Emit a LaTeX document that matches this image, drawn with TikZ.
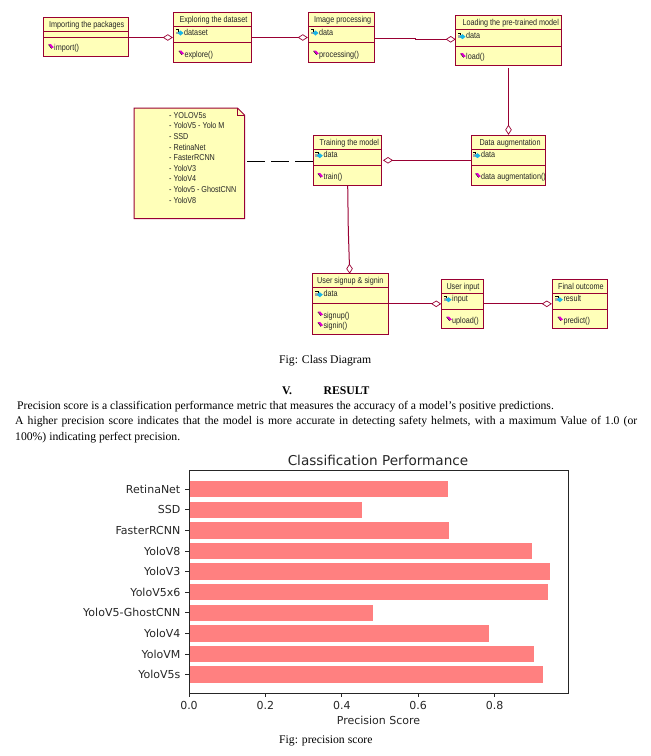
\documentclass[tikz,border=0pt]{standalone}
\usepackage{fontspec}
\setmainfont{Liberation Serif}
\newfontfamily\umlfont[FakeStretch=0.84]{Liberation Sans}
\newfontfamily\plotfont{DejaVu Sans}
\usetikzlibrary{arrows.meta,fit,calc}
\definecolor{UmlRed}{HTML}{990033}
\definecolor{UmlFill}{HTML}{FFFFB9}
\definecolor{UmlCyan}{HTML}{19B5E6}
\definecolor{UmlPink}{HTML}{E000D0}
\definecolor{BarRed}{HTML}{FF8080}
\definecolor{PlotInk}{HTML}{262626}
\tikzset{
  classbox/.style={draw=UmlRed, line width=1pt, fill=UmlFill, inner sep=0pt},
  classline/.style={draw=UmlRed, line width=1pt},
  classtitle/.style={anchor=west, inner sep=0pt, text=black!85, text height=6pt, text depth=1.7pt,
    font=\umlfont\fontsize{8.6}{10}\selectfont},
  member/.style={classtitle},
  wire/.style={{Diamond[open, length=10pt, width=6.5pt, line width=0.7pt]}-, draw=UmlRed, line width=1pt},
  dependency/.style={draw=black, line width=1pt, dash pattern=on 18pt off 6pt},
  notebox/.style={inner sep=0pt},
  notetext/.style={anchor=north west, inner sep=0pt, align=left, text=black!85,
    font=\umlfont\fontsize{8.6}{10.6}\selectfont},
  bodytext/.style={anchor=west, inner sep=0pt, font=\fontsize{11.7}{13}\selectfont},
  caption/.style={bodytext},
  headtext/.style={bodytext, font=\bfseries\fontsize{11.7}{13}\selectfont},
  bar/.style={fill=BarRed},
  axisline/.style={draw=PlotInk, line width=0.9pt},
  plotlabel/.style={inner sep=0pt, text=PlotInk, font=\plotfont\fontsize{11}{13}\selectfont}
}
\newcommand{\umlclass}[7]{%
  \node[classbox, fit={(#2,#3) (#4,#5)}] (#1) {};
  \draw[classline] (#2,#6) -- (#4,#6);
  \draw[classline] (#2,#7) -- (#4,#7);
}
\newcommand{\attribute}[4]{%
  \node[member] (#1) at (#3,#4) {#2};
  \fill[gray!70] (#3-8,#4-1.5) rectangle (#3-4,#4+0.8);
  \draw[black, thin] (#3-8,#4-4) -- (#3-5.5,#4-4) -- (#3-5.5,#4-1.5);
  \fill[UmlCyan] (#3-3.5,#4-2.5) -- (#3-0.5,#4) -- (#3-3.5,#4+2.5) -- (#3-6.5,#4) -- cycle;
}
\newcommand{\operation}[4]{%
  \node[member] (#1) at (#3,#4) {#2};
  \fill[UmlPink] (#3-5.5,#4-4.5) -- (#3-3,#4-4.5) -- (#3-0.2,#4-1.5) -- (#3-2.5,#4-0.2) -- cycle;
  \draw[black, thin] (#3-5.5,#4-4) -- (#3-2.5,#4-0.2);
}
\begin{document}
\begin{tikzpicture}[x=1pt, y=-1pt]
  \useasboundingbox (0,0) rectangle (651,756);
  % classes
  \umlclass{imports}{43.5}{17.7}{128.6}{56.3}{31.7}{37.3}
  \node[classtitle] (importstitle) at (49,25.7) {Importing the packages};
  \operation{importop}{import()}{54}{48.7}
  \umlclass{explore}{173.3}{12.7}{251.7}{62.3}{26.7}{42.3}
  \node[classtitle] (exploretitle) at (179.3,20.7) {Exploring the dataset};
  \attribute{exploreattr}{dataset}{184}{33}
  \operation{exploreop}{explore()}{184.3}{55}
  \umlclass{image}{308.3}{12.7}{374.3}{62.3}{26.7}{42.3}
  \node[classtitle] (imagetitle) at (314,20.7) {Image processing};
  \attribute{imageattr}{data}{319}{33}
  \operation{imageop}{processing()}{319}{55}
  \umlclass{loading}{455.7}{15.7}{561.3}{65.3}{29.3}{46.3}
  \node[classtitle] (loadingtitle) at (462.3,23.7) {Loading the pre-trained model};
  \attribute{loadingattr}{data}{466}{36.7}
  \operation{loadingop}{load()}{466}{57.7}
  \umlclass{training}{313.3}{135.3}{381.3}{185.3}{149.3}{165}
  \node[classtitle] (trainingtitle) at (319.3,143.7) {Training the model};
  \attribute{trainingattr}{data}{323.3}{155.7}
  \operation{trainingop}{train()}{323.3}{177.7}
  \umlclass{augment}{471.7}{135.3}{545.3}{185.3}{149.3}{165}
  \node[classtitle] (augmenttitle) at (479.3,143.7) {Data augmentation};
  \attribute{augmentattr}{data}{481}{155.7}
  \operation{augmentop}{data augmentation()}{481}{177.7}
  \umlclass{signup}{312.3}{273.7}{388.3}{334.3}{287.7}{303.3}
  \node[classtitle] (signuptitle) at (317,281.7) {User signup \& signin};
  \attribute{signupattr}{data}{323.3}{294.7}
  \operation{signupop}{signup()}{323.3}{316}
  \operation{signinop}{signin()}{323.3}{326.7}
  \umlclass{input}{441.7}{279.3}{483.3}{328.3}{293.3}{309.3}
  \node[classtitle] (inputtitle) at (446.3,287) {User input};
  \attribute{inputattr}{input}{452}{299.7}
  \operation{inputop}{upload()}{452}{321}
  \umlclass{outcome}{552.3}{279.3}{607.3}{328.3}{293.3}{309.3}
  \node[classtitle] (outcometitle) at (558,287) {Final outcome};
  \attribute{outcomeattr}{result}{563.3}{299.7}
  \operation{outcomeop}{predict()}{563.3}{321}
  % note
  \node[notebox, fit={(134.3,108.3) (244.3,218.3)}] (note) {};
  \draw[classbox] (note.north west) -- ++(103.5,0) -- (note.north east |- 0,115) -- (note.south east) -- (note.south west) -- cycle;
  \draw[classline, line width=0.7pt] (237.8,108.3) -- (237.8,115) -- (244.3,115);
  \node[notetext] (notelist) at (169,112) {- YOLOV5s\\- YoloV5 - Yolo M\\- SSD\\- RetinaNet\\- FasterRCNN\\- YoloV3\\- YoloV4\\- Yolov5 - GhostCNN\\- YoloV8};
  % connectors
  \coordinate (notelink) at (247,161);
  \coordinate (imagelink) at (374.3,38.3);
  \coordinate (imagebend) at (415,38.3);
  \coordinate (loadinglink) at (455.7,39.3);
  \coordinate (trainfoot) at (347.7,185.3);
  \coordinate (signupbend) at (348.3,230);
  \coordinate (signuplink) at (349.7,273.7);
  \draw[wire] (explore.west) -- (imports.east |- explore.west);
  \draw[wire] (image.west) -- (explore.east |- image.west);
  \draw[wire] (loadinglink) -- (imagebend |- loadinglink) -- (imagebend) -- (imagelink);
  \draw[wire] (augment.north) -- ([yshift=-1.7pt]loading.south);
  \draw[wire] ([xshift=1.2pt]training.east) -- (augment.west |- training.east);
  \draw[wire] (signuplink) -- (signupbend) -- (trainfoot);
  \draw[wire] (input.west) -- (signup.east |- input.west);
  \draw[wire] (outcome.west) -- (input.east |- outcome.west);
  \draw[dependency] (notelink) -- (training.west |- notelink);
  % text
  \node[caption] (classcaption) at (279,361) {Fig: Class Diagram};
  \node[headtext] (secnum) at (282,391) {V.};
  \node[headtext] (sectitle) at (323.5,391) {RESULT};
  \node[bodytext] (lineone) at (17,407) {Precision score is a classification performance metric that measures the accuracy of a model's positive predictions.};
  \node[bodytext] (linetwo) at (15,422) {\makebox[622pt][s]{A higher precision score indicates that the model is more accurate in detecting safety helmets, with a maximum Value of 1.0 (or}};
  \node[bodytext] (linethree) at (15,438) {100\%) indicating perfect precision.};
  % chart
  \node[plotlabel, font=\plotfont\fontsize{13.6}{15}\selectfont] (charttitle) at (378,460) {Classification Performance};
  \foreach \barname/\barlabel/\barend/\barmid in {
    retina/RetinaNet/448/489.2, ssd/SSD/361.7/509.8, faster/FasterRCNN\ /449/530.4,
    veight/YoloV8/531.7/551, vthree/YoloV3/550/571.6, vsix/YoloV5x6/547.7/592.2,
    ghost/YoloV5-GhostCNN/373.3/612.8, vfour/YoloV4/488.7/633.4,
    vm/YoloVM/534/654, vfives/YoloV5s/543/674.6} {
    \fill[bar] (189,\barmid-8.2) rectangle (\barend,\barmid+8.2);
    \draw[axisline] (185,\barmid) -- (189,\barmid);
    \node[plotlabel, anchor=east] (\barname) at (180.5,\barmid) {\barlabel};
  }
  \node[notebox, fit={(189,470) (568.7,693.3)}, axisline, draw] (plotarea) {};
  \foreach \tickname/\ticklabel/\tickx in {a/0.0/189, b/0.2/265.4, c/0.4/341.8, d/0.6/418.2, e/0.8/494.6} {
    \draw[axisline] (\tickx,693.3) -- (\tickx,697);
    \node[plotlabel] (tick\tickname) at (\tickx,705.7) {\ticklabel};
  }
  \node[plotlabel] (xlabel) at (378.5,720) {Precision Score};
  \node[caption] (chartcaption) at (279,741) {Fig: precision score};
\end{tikzpicture}
\end{document}
